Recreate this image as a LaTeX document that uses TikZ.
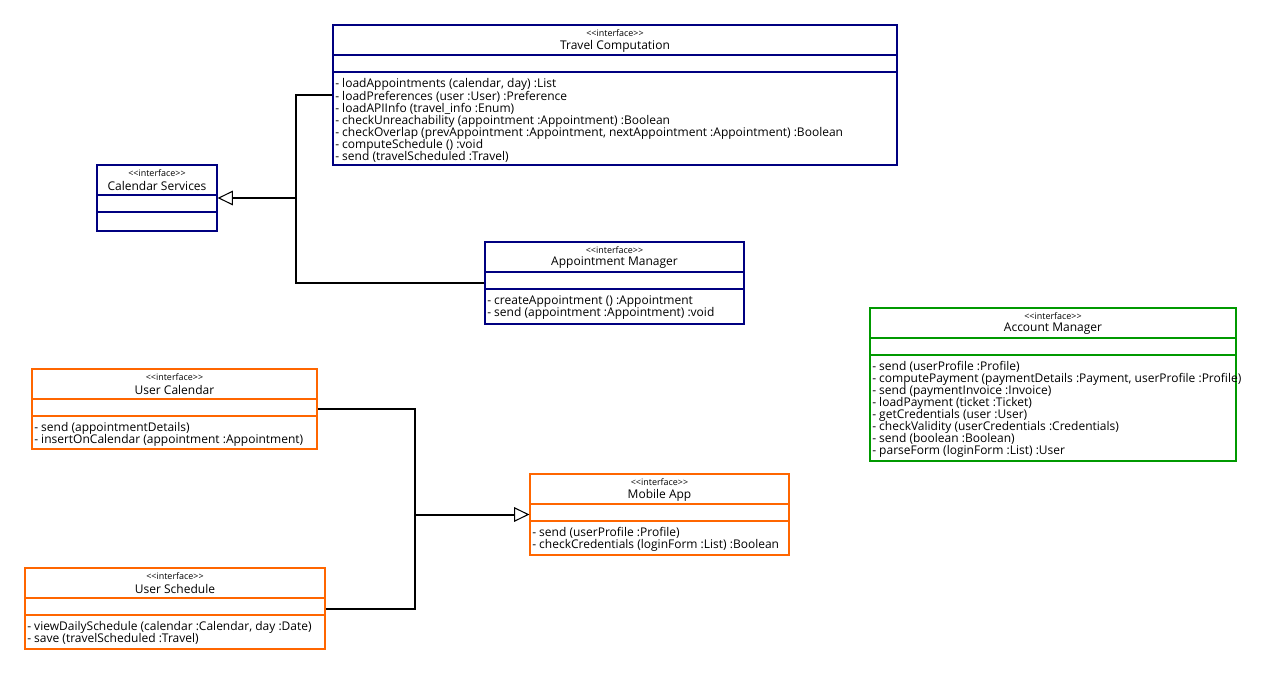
\documentclass[tikz,border=0pt]{standalone}
\usepackage{fontspec}
\newfontfamily\umlfont{Open Sans}
\usetikzlibrary{arrows.meta,fit}

\definecolor{umlnavy}{RGB}{0,0,128}
\definecolor{umlgreen}{RGB}{0,153,0}
\definecolor{umlorange}{RGB}{255,102,0}

\tikzset{
  classbox/.style={draw, line width=0.9pt, inner sep=0pt},
  divider/.style={line width=0.9pt},
  stereo/.style={font=\umlfont\fontsize{6.7}{7.5}\selectfont, inner sep=0pt},
  classname/.style={font=\umlfont\fontsize{9}{9}\selectfont, inner sep=0pt},
  ops/.style={font=\umlfont\fontsize{9}{9}\selectfont, align=left, inner sep=0pt, anchor=north west},
  conn/.style={line width=1.5pt},
  gen/.style={conn, -{Triangle[length=11.5pt, width=11pt, fill=white, line width=0.8pt]}}
}

% \umlclass{name}{colour}{x1}{y1}{x2}{y2}{title}{operations}
\newcommand\umlclass[8]{%
  \node[classbox, draw=#2, fit={(#3,#4) (#5,#6)}] (#1) {};
  \draw[divider, draw=#2] (#3,#4+30) -- (#5,#4+30);
  \draw[divider, draw=#2] (#3,#4+47) -- (#5,#4+47);
  \node[stereo] (#1-st) at ({(#3+#5)/2},#4+8) {<<interface>>};
  \node[classname] (#1-nm) at ({(#3+#5)/2},#4+21) {#7};
  \node[ops] (#1-op) at (#3+2,#4+53) {#8};
}

\begin{document}
\begin{tikzpicture}[x=0.75pt,y=-0.75pt]
\useasboundingbox (0,0) rectangle (1261,675);

\umlclass{tc}{umlnavy}{333}{25}{897}{165}{Travel Computation}{%
- loadAppointments (calendar, day) :List\\
- loadPreferences (user :User) :Preference\\
- loadAPIInfo (travel\_info :Enum)\\
- checkUnreachability (appointment :Appointment) :Boolean\\
- checkOverlap (prevAppointment :Appointment, nextAppointment :Appointment) :Boolean\\
- computeSchedule () :void\\
- send (travelScheduled :Travel)}

\umlclass{cs}{umlnavy}{97}{165}{217}{231}{Calendar Services}{}

\umlclass{am}{umlnavy}{485}{242}{744}{324}{Appointment Manager}{%
- createAppointment () :Appointment\\
- send (appointment :Appointment) :void}

\umlclass{acm}{umlgreen}{870}{308}{1236}{461}{Account Manager}{%
- send (userProfile :Profile)\\
- computePayment (paymentDetails :Payment, userProfile :Profile)\\
- send (paymentInvoice :Invoice)\\
- loadPayment (ticket :Ticket)\\
- getCredentials (user :User)\\
- checkValidity (userCredentials :Credentials)\\
- send (boolean :Boolean)\\
- parseForm (loginForm :List) :User}

\umlclass{uc}{umlorange}{32}{369}{317}{449}{User Calendar}{%
- send (appointmentDetails)\\
- insertOnCalendar (appointment :Appointment)}

\umlclass{us}{umlorange}{25}{568}{325}{649}{User Schedule}{%
- viewDailySchedule (calendar :Calendar, day :Date)\\
- save (travelScheduled :Travel)}

\umlclass{ma}{umlorange}{530}{474}{789}{555}{Mobile App}{%
- send (userProfile :Profile)\\
- checkCredentials (loginForm :List) :Boolean}

% generalisation towards Calendar Services
\coordinate (j1) at (296,198);
\draw[conn] (tc.west) -| (j1);
\draw[conn] (am.west) -| (j1);
\draw[gen] (j1) -- (cs.east);

% generalisation towards Mobile App
\coordinate (j2) at (415,514.5);
\draw[conn] (uc.east) -| (j2);
\draw[conn] (us.east) -| (j2);
\draw[gen] (j2) -- (ma.west);
\end{tikzpicture}
\end{document}
